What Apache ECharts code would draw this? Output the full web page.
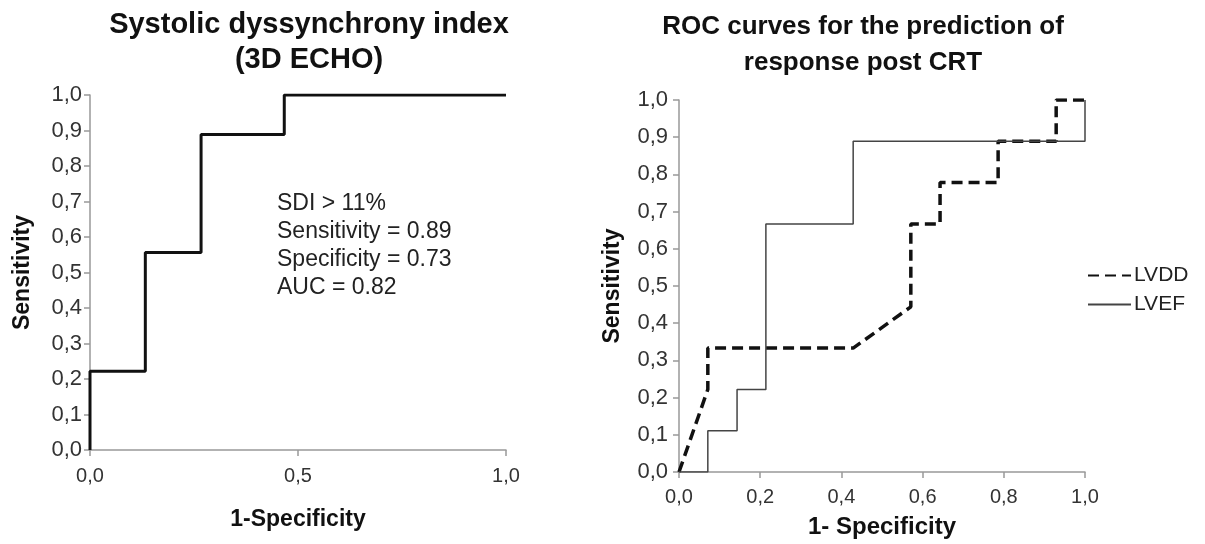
<!DOCTYPE html>
<html>
<head>
<meta charset="utf-8">
<script src="https://cdn.jsdelivr.net/npm/echarts@6/dist/echarts.min.js"></script>
<style>
  html, body { margin: 0; padding: 0; background: #fff; }
  #chart { width: 1205px; height: 544px; }
</style>
</head>
<body>
<div id="chart"></div>
<script>
// left panel: systolic dyssynchrony index ROC
const sdiX = [0, 0, 0.133, 0.133, 0.267, 0.267, 0.467, 0.467, 1.0];
const sdiY = [0, 0.222, 0.222, 0.556, 0.556, 0.889, 0.889, 1.0, 1.0];

// right panel
const lvddX = [0, 0.071, 0.071, 0.429, 0.571, 0.571, 0.643, 0.643, 0.786, 0.786, 0.929, 0.929, 1.0];
const lvddY = [0, 0.222, 0.333, 0.333, 0.444, 0.667, 0.667, 0.778, 0.778, 0.889, 0.889, 1.0, 1.0];
const lvefX = [0, 0.071, 0.071, 0.143, 0.143, 0.214, 0.214, 0.429, 0.429, 1.0, 1.0];
const lvefY = [0, 0, 0.111, 0.111, 0.222, 0.222, 0.667, 0.667, 0.889, 0.889, 1.0];

const sdiNotes = ["SDI > 11%", "Sensitivity = 0.89", "Specificity = 0.73", "AUC = 0.82"];

const font = "Liberation Sans, Arial, sans-serif";
const comma = v => v.toFixed(1).replace(".", ",");
const zip = (xs, ys) => xs.map((x, i) => [x, ys[i]]);

const axisLine = { lineStyle: { color: "#999", width: 1.5 } };
const axisTick = { show: true, inside: false, length: 6, lineStyle: { color: "#999", width: 1.5 } };
const labelStyle = { color: "#333", fontFamily: font, formatter: comma };
const nameStyle = { color: "#111", fontWeight: "bold", fontFamily: font };

const chart = echarts.init(document.getElementById("chart"));
chart.setOption({
  animation: false,
  backgroundColor: "#fff",
  title: [
    {
      text: "Systolic dyssynchrony index\n(3D ECHO)",
      left: 304, top: 2, textAlign: "center",
      textStyle: { fontSize: 29, fontWeight: "bold", color: "#111", fontFamily: font, lineHeight: 35 }
    },
    {
      text: "ROC curves for the prediction of\nresponse post CRT",
      left: 858, top: 4, textAlign: "center",
      textStyle: { fontSize: 26, fontWeight: "bold", color: "#111", fontFamily: font, lineHeight: 36 }
    }
  ],
  grid: [
    { left: 90, right: 699, top: 95, bottom: 94 },
    { left: 679, right: 120, top: 100, bottom: 71 }
  ],
  xAxis: [
    {
      gridIndex: 0, type: "value", min: 0, max: 1, interval: 0.5,
      axisLine, axisTick, splitLine: { show: false },
      axisLabel: Object.assign({ fontSize: 20, margin: 16 }, labelStyle),
      name: "1-Specificity", nameLocation: "middle", nameGap: 58,
      nameTextStyle: Object.assign({ fontSize: 23 }, nameStyle)
    },
    {
      gridIndex: 1, type: "value", min: 0, max: 1, interval: 0.2,
      axisLine, axisTick, splitLine: { show: false },
      axisLabel: Object.assign({ fontSize: 20, margin: 15 }, labelStyle),
      name: "1- Specificity", nameLocation: "middle", nameGap: 43,
      nameTextStyle: Object.assign({ fontSize: 24 }, nameStyle)
    }
  ],
  yAxis: [
    {
      gridIndex: 0, type: "value", min: 0, max: 1, interval: 0.1,
      axisLine, axisTick, splitLine: { show: false },
      axisLabel: Object.assign({ fontSize: 22, margin: 8 }, labelStyle),
      name: "Sensitivity", nameLocation: "middle", nameGap: 56,
      nameTextStyle: Object.assign({ fontSize: 23 }, nameStyle)
    },
    {
      gridIndex: 1, type: "value", min: 0, max: 1, interval: 0.1,
      axisLine, axisTick, splitLine: { show: false },
      axisLabel: Object.assign({ fontSize: 22, margin: 11 }, labelStyle),
      name: "Sensitivity", nameLocation: "middle", nameGap: 55,
      nameTextStyle: Object.assign({ fontSize: 23 }, nameStyle)
    }
  ],
  legend: {
    orient: "vertical",
    left: 1082, top: 260,
    itemWidth: 43, itemHeight: 14, itemGap: 8,
    itemStyle: { opacity: 0 },
    textStyle: { fontSize: 21, color: "#222", fontFamily: font, padding: [0, 0, 0, -2] },
    data: ["LVDD", "LVEF"]
  },
  graphic: sdiNotes.map((t, i) => ({
    type: "text",
    left: 277, top: 192 + i * 28,
    style: { text: t, fontSize: 23, fill: "#222", fontFamily: font }
  })),
  series: [
    {
      name: "SDI", type: "line", xAxisIndex: 0, yAxisIndex: 0,
      symbol: "none", data: zip(sdiX, sdiY),
      lineStyle: { color: "#111", width: 3 }
    },
    {
      name: "LVDD", type: "line", xAxisIndex: 1, yAxisIndex: 1,
      symbol: "none", data: zip(lvddX, lvddY),
      itemStyle: { color: "#111" },
      lineStyle: { color: "#111", width: 3.5, type: [11, 6] }
    },
    {
      name: "LVEF", type: "line", xAxisIndex: 1, yAxisIndex: 1,
      symbol: "none", data: zip(lvefX, lvefY),
      itemStyle: { color: "#444" },
      lineStyle: { color: "#444", width: 1.5 }
    }
  ]
});
</script>
</body>
</html>
